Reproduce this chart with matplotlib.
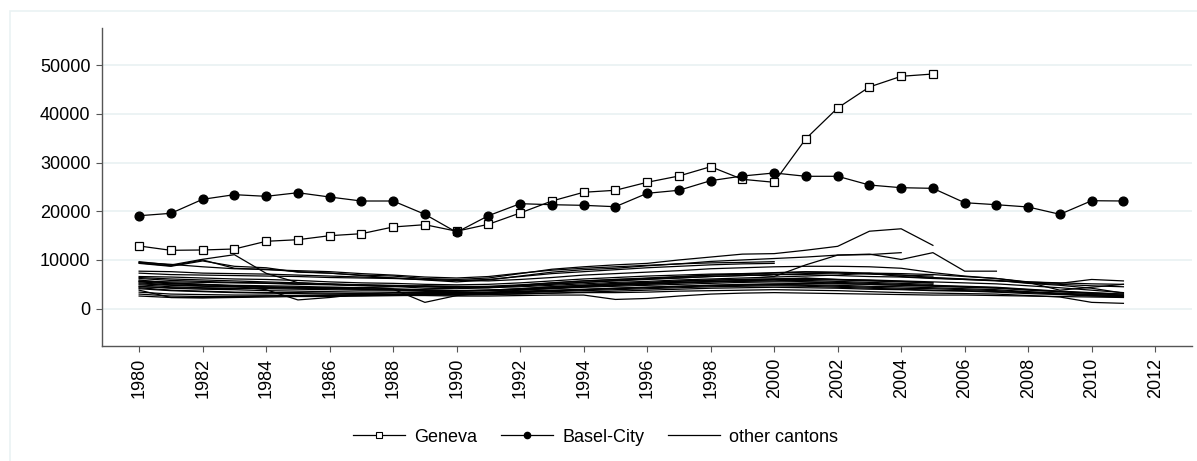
import matplotlib
matplotlib.use("Agg")
import matplotlib.pyplot as plt
from matplotlib.patches import Rectangle

plt.rcParams['font.family'] = ['Liberation Sans', 'DejaVu Sans']

years = list(range(1980, 2012))
x_ticks = list(range(1980, 2013, 2))
y_ticks = [0, 10000, 20000, 30000, 40000, 50000]

geneva_years = list(range(1980, 2006))
geneva = [12870, 11980, 12050, 12250, 13830, 14160, 14980, 15390, 16770, 17240,
          15900, 17320, 19640, 22100, 23890, 24300, 25940, 27230, 29140, 26550,
          25940, 34890, 41190, 45500, 47690, 48160]

basel_years = list(range(1980, 2012))
basel = [19080, 19570, 22450, 23400, 23060, 23800, 22920, 22100, 22100, 19370,
         15680, 19080, 21550, 21340, 21210, 20930, 23680, 24300, 26270, 27230,
         27850, 27170, 27170, 25380, 24830, 24700, 21750, 21340, 20870, 19370,
         22160, 22100]

N = None
other = {
    "ZG": [9500, 9100, 8600, 8200, 8100, 7600, 7300, 6900, 6700, 6200, 6000, 6300, 7200, 8100, 8600, 9000,
           9300, 10000, 10600, 11200, 11300, 12000, 12800, 15900, 16400, 13000, N, N, N, N, N, N],
    "NW": [9300, 8700, 9800, 8700, 8400, 7500, 7300, 6800, 6300, 5900, 5500, 5900, 6700, 7500, 8000, 8300,
           8800, 9200, 9700, 10000, 10300, 10600, 11000, 11200, 10100, 11500, 7700, 7700, N, N, N, N],
    "SZ": [9650, 8970, 10140, 11080, 7260, 5340, 5000, 4800, 4600, 4200, 4100, 4300, 4800, 5300, 5700, 6000,
           6200, 6500, 6900, 7100, 6600, 9000, 11000, 11100, 11500, N, N, N, N, N, N, N],
    "OW": [9400, 8800, 10000, 8300, 8000, 7800, 7600, 7200, 6900, 6500, 6300, 6600, 7300, 7900, 8300, 8600,
           8900, 9200, 9400, 9500, 9650, N, N, N, N, N, N, N, N, N, N, N],
    "GL": [7700, 7600, 7300, 7200, 7100, 6900, 6700, 6500, 6300, 6000, 5800, 6000, 6600, 7200, 7600, 8000,
           8400, 8700, 9000, 9200, 9300, N, N, N, N, N, N, N, N, N, N, N],
    "ZH": [7300, 7000, 6900, 6800, 6700, 6600, 6400, 6300, 6200, 6000, 5800, 5700, 6000, 6400, 6900, 7200,
           7500, 7800, 8200, 8400, 8600, 8700, 8700, 8600, 8300, 7400, 6700, 6200, 5500, 5200, 6000, 5700],
    "BS2": [6600, 6500, 6300, 6100, 6000, 5800, 5500, 5300, 5200, 5000, 4900, 5000, 5300, 5700, 6100, 6400,
            6700, 6900, 7100, 7200, 7400, 7600, 7500, 7300, 7200, 7000, 6600, 6200, 5400, 3800, 4400, 5000],
    "BL": [5900, 5200, 5000, 4800, 4700, 4600, 4400, 4300, 4500, 4700, 4600, 4500, 4700, 5100, 5400, 5800,
           6100, 6300, 6600, 6800, 7000, 7000, 6800, 6600, 6500, 6200, 6000, 5800, 5200, 4800, 4200, 3200],
    "LU": [5300, 4900, 4700, 4500, 4400, 4300, 4200, 4000, 3900, 3800, 3700, 3800, 4100, 4500, 4800, 5200,
           5400, 5700, 5900, 6000, 6100, 6300, 6000, 5800, 5600, 5300, N, N, N, N, N, N],
    "BE": [4900, 4500, 4300, 4200, 4100, 4000, 3900, 3800, 3800, 3700, 3600, 3700, 3900, 4200, 4500, 4800,
           5000, 5300, 5500, 5700, 5900, 5500, 5200, 5000, 4800, 4600, 4400, 4200, 3800, 3500, 3200, 3000],
    "FR": [4300, 3800, 3600, 3400, 3300, 3300, 3200, 3100, 3000, 3100, 3100, 3200, 3400, 3600, 3900, 4200,
           4400, 4600, 4800, 5000, 5100, 5200, 5100, 5000, 4800, 4700, 4500, 4300, 3900, 3500, 3100, 2800],
    "UR": [3800, 2300, 2300, 2400, 2600, 2600, 2700, 2700, 2800, 2900, 3000, 3100, 3300, 3500, 3700, 3900,
           4100, 4300, 4500, 4600, 4700, 4600, 4400, 4200, 4000, 3800, 3700, 3500, 3300, 3000, 2700, 2500],
    "AI": [2600, 2300, 2200, 2300, 2400, 2500, 2500, 2600, 2700, 2800, 2900, 3000, 3100, 3200, 3300, 3300,
           3400, 3600, 3700, 3800, 3900, 3800, 3700, 3500, 3300, 3200, 3100, 3000, 2700, 2400, 1300, 1100],
    "SO": [5600, 5300, 5000, 4600, 3900, 1800, 2300, 3000, 3300, 3500, 3600, 3800, 4100, 4500, 4800, 5100,
           5300, 5600, 5800, 6000, 6100, 6200, 6000, 5900, 5700, 5500, 5300, 5100, 4700, 4300, 3800, 3300],
    "SH": [5500, 5100, 4900, 4700, 4500, 4400, 4200, 4100, 4000, 1300, 2700, 3300, 3800, 4200, 4600, 4900,
           5200, 5400, 5600, 5800, 6000, 6000, 5900, 5700, 5500, 5300, N, N, N, N, N, N],
    "VD": [6200, 5800, 5600, 5400, 5300, 5100, 5000, 4900, 4700, 4600, 4400, 4400, 4700, 5000, 5400, 5700,
           6000, 6300, 6600, 6800, 7000, 7200, 7300, 7100, 6900, 6700, N, N, N, N, N, N],
    "SG": [4600, 4200, 4000, 3900, 3700, 3600, 3500, 3400, 3400, 3300, 3300, 3400, 3600, 3800, 4000, 4200,
           4400, 4600, 4800, 4900, 5000, 4900, 4800, 4600, 4500, 4300, 4100, 3900, 3500, 3200, 2900, 2600],
    "TG": [4100, 3700, 3500, 3300, 3200, 3100, 3000, 3000, 2900, 2900, 2800, 2900, 3000, 3200, 3400, 3600,
           3800, 4000, 4200, 4300, 4400, 4300, 4200, 4000, 3900, 3700, 3600, 3400, 3100, 2900, 2600, 2400],
    "AR": [3400, 3000, 2900, 2800, 2800, 2700, 2700, 2700, 2700, 2700, 2600, 2600, 2700, 2800, 2800, 1900,
           2100, 2600, 3000, 3200, 3300, 3200, 3100, 3000, 2900, 2800, 2800, 2700, 2600, 2500, 2400, 2300],
    "AG": [5100, 4800, 4600, 4500, 4400, 4200, 4100, 4000, 3900, 3800, 3700, 3700, 3900, 4100, 4400, 4600,
           4800, 5000, 5200, 5400, 5500, 5500, 5400, 5200, 5000, 4800, 4600, 4400, 4000, 3600, 3300, 3000],
    "TI": [4500, 4300, 4200, 4100, 4200, 4300, 4400, 4300, 4100, 3900, 3700, 3800, 4000, 4300, 4600, 4900,
           5100, 5300, 5500, 5600, 5700, 5800, 5600, 5400, 5200, 5000, N, N, N, N, N, N],
    "NE": [5700, 5500, 5400, 5300, 5200, 5000, 4900, 4700, 4600, 4500, 4300, 4300, 4500, 4800, 5100, 5400,
           5600, 5900, 6100, 6300, 6500, 6700, 6900, 7300, 6600, 6300, 6000, 5700, 5500, 5300, 5100, 5000],
    "VS": [3000, 2600, 2500, 2500, 2600, 2700, 2800, 2900, 3000, 3100, 3200, 3300, 3500, 3700, 3900, 4100,
           4300, 4500, 4700, 4800, 4900, 4800, 4600, 4400, 4200, 4100, 3900, 3700, 3400, 3100, 2900, 2700],
    "GR": [6400, 6100, 5900, 5700, 5500, 5300, 5100, 4900, 4800, 4600, 4500, 4600, 4900, 5300, 5700, 6000,
           6300, 6600, 6900, 7100, 7300, 7500, 7400, 7200, 6900, 6400, 6100, 5800, 5300, 5000, 4700, 4500],
}

W, H = 1197, 461
fig = plt.figure(figsize=(W / 100, H / 100), dpi=100)
fig.patches.append(Rectangle((10 / W, -0.1), 1.2, (H - 11) / H + 0.1, transform=fig.transFigure,
                             fill=False, edgecolor="#EAF2F3", linewidth=1.2, zorder=0))

ax = fig.add_axes([102.3 / W, 1 - 345.7 / H, (1192 - 102.3) / W, (345.7 - 28.3) / H])

for name, vals in other.items():
    xs = [y for y, v in zip(years, vals) if v is not None]
    ys = [v for v in vals if v is not None]
    ax.plot(xs, ys, color="black", linewidth=0.9, zorder=2)

ax.plot(geneva_years, geneva, color="black", linewidth=0.9, marker="s", markersize=6.2,
        markerfacecolor="white", markeredgecolor="black", markeredgewidth=0.9, zorder=4)
ax.plot(basel_years, basel, color="black", linewidth=0.9, marker="o", markersize=6.3,
        markerfacecolor="black", markeredgecolor="black", zorder=4)

ax.set_xlim(1978.84, 2013.16)
ax.set_ylim(-7593, 57540)
ax.set_xticks(x_ticks)
ax.set_xticklabels([str(t) for t in x_ticks], rotation=90)
ax.set_yticks(y_ticks)
ax.set_yticklabels([str(t) for t in y_ticks])
ax.grid(axis="y", color="#EAF2F3", linewidth=1.3, zorder=0)
ax.set_axisbelow(True)
for s in ["top", "right"]:
    ax.spines[s].set_visible(False)
for s in ["left", "bottom"]:
    ax.spines[s].set_color("#555555")
    ax.spines[s].set_linewidth(1.0)
ax.tick_params(axis="both", length=4.5, width=0.8, color="#555555", labelsize=13, labelcolor="black", pad=4)

handles = [
    plt.Line2D([], [], color="black", linewidth=0.9, marker="s", markersize=4, markerfacecolor="white",
               markeredgecolor="black", markeredgewidth=0.8),
    plt.Line2D([], [], color="black", linewidth=0.9, marker="o", markersize=4.5, markerfacecolor="black"),
    plt.Line2D([], [], color="black", linewidth=0.9),
]
fig.legend(handles, ["Geneva", "Basel-City", "other cantons"], loc="center", ncol=3,
           bbox_to_anchor=(0.4975, 1 - 437 / H), frameon=False, fontsize=13,
           handlelength=2.9, handletextpad=0.5, columnspacing=1.3)

fig.savefig("out.png", dpi=100)
